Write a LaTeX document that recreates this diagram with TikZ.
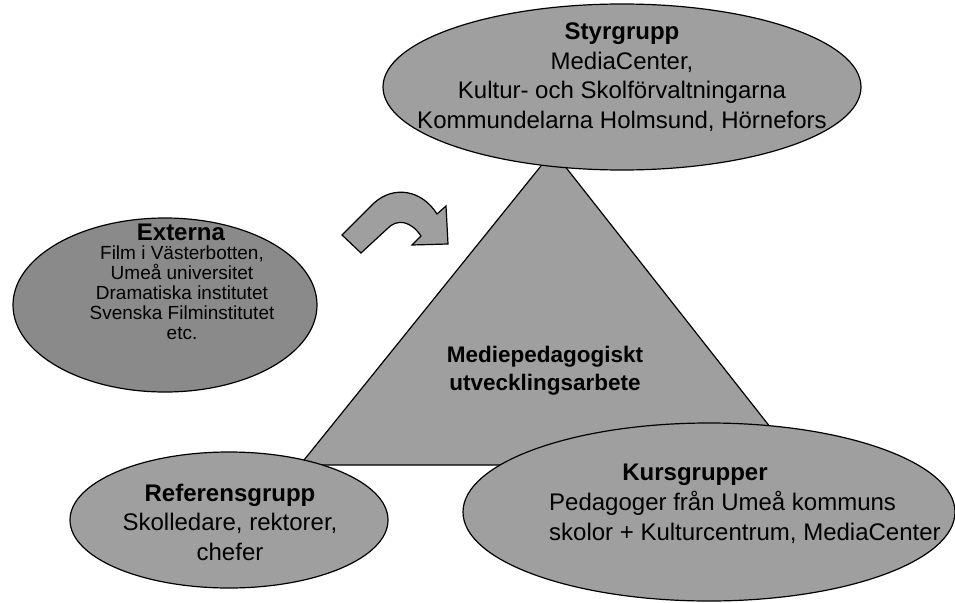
\documentclass[tikz,border=0pt]{standalone}
\usepackage{fontspec}
\setmainfont{Liberation Sans}
\usetikzlibrary{shapes.geometric}
\begin{document}
\begin{tikzpicture}[x=1pt,y=-1pt,
  blob/.style={draw=black,line width=1.2pt,fill=gray!75,ellipse,inner sep=0pt},
  darkblob/.style={blob,fill=gray!92},
  big/.style={font=\fontsize{24}{29.5}\selectfont,align=center,inner sep=0pt},
  small/.style={font=\fontsize{19}{20}\selectfont,align=center,inner sep=0pt}]
\useasboundingbox (0,0) rectangle (955,602);
% triangle
\coordinate (apex) at (553,151);
\coordinate (bl) at (300,465);
\coordinate (br) at (800,465);
\draw[line width=1.2pt,fill=gray!75] (apex) -- (bl) -- (br) -- cycle;
\node[big,font=\fontsize{22.5}{28}\selectfont\bfseries] (tri) at (545,371) {Mediepedagogiskt\\utvecklingsarbete};
% Styrgrupp
\node[blob,minimum width=478pt,minimum height=166pt] (sty) at (622,87) {};
\node[big] (styt) at (622,77) {\textbf{Styrgrupp}\\MediaCenter,\\Kultur- och Skolförvaltningarna\\Kommundelarna Holmsund, Hörnefors};
% Externa
\node[darkblob,minimum width=304pt,minimum height=174pt] (ext) at (165,305) {};
\node[big] (extt) at (181,232) {\textbf{Externa}};
\node[small] (extb) at (182,293) {Film i Västerbotten,\\Umeå universitet\\Dramatiska institutet\\Svenska Filminstitutet\\etc.};
% Referensgrupp
\node[blob,minimum width=318pt,minimum height=136pt] (ref) at (229,520) {};
\node[big] (reft) at (230,522) {\textbf{Referensgrupp}\\Skolledare, rektorer,\\chefer};
% Kursgrupper
\node[blob,minimum width=492pt,minimum height=178pt] (kurs) at (709,512) {};
\node[big] (kurst) at (695,475) {\textbf{Kursgrupper}};
\node[big,align=left,anchor=west] (kursb) at (549,517.5) {Pedagoger från Umeå kommuns\\skolor + Kulturcentrum, MediaCenter};
% curved block arrow
\draw[line width=1.2pt,fill=gray!75,line join=miter]
  (342,235) -- (374,203) .. controls (394,185) and (422,190) .. (437,214)
  -- (446,206) -- (448,244) -- (412,245) -- (421,236)
  .. controls (411,221) and (397,218) .. (387,229) -- (361,253) -- cycle;
\end{tikzpicture}
\end{document}
